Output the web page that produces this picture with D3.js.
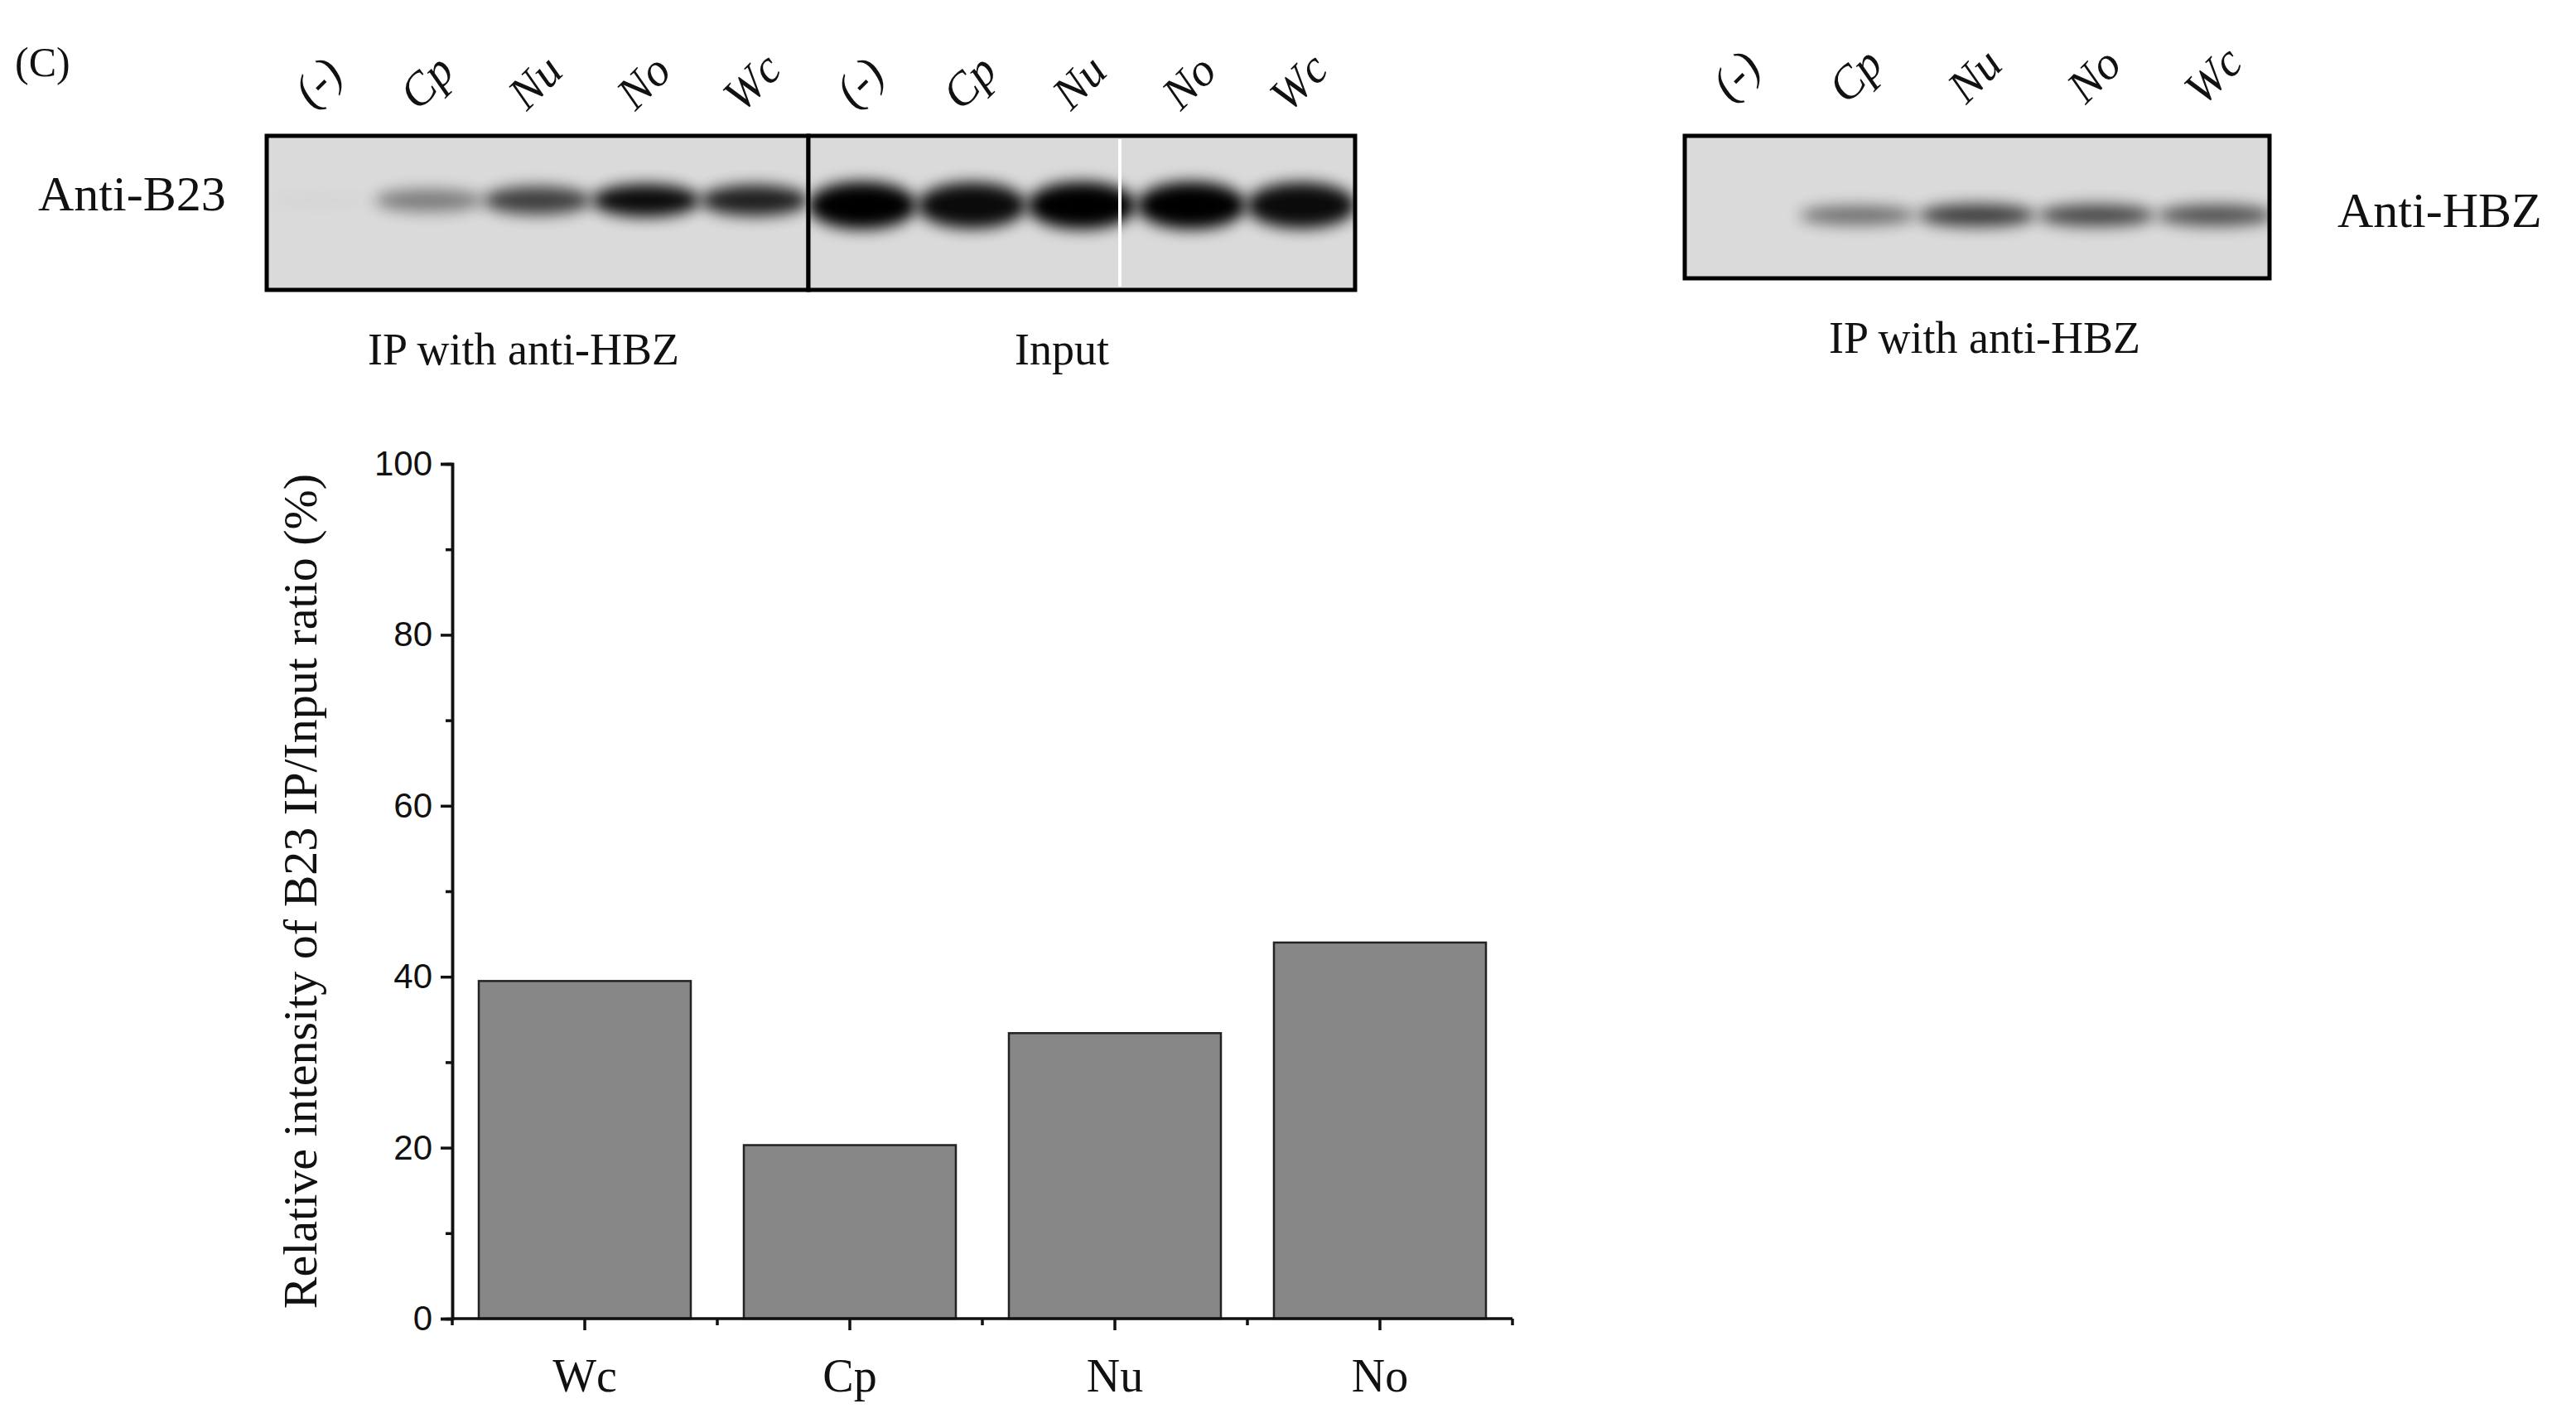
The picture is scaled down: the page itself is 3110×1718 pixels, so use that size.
<!DOCTYPE html>
<html>
<head>
<meta charset="utf-8">
<script src="https://cdn.jsdelivr.net/npm/d3@7"></script>
<style>
  body { margin:0; background:#fff; }
  text { font-family: "Liberation Serif", "DejaVu Serif", serif; fill:#111; }
  .tick text { font-family: "Liberation Sans Narrow", "Liberation Sans", Arial, sans-serif; }
</style>
</head>
<body>
<svg id="fig" width="3110" height="1718"></svg>
<script>
// ---- bar chart data
var categories = ["Wc", "Cp", "Nu", "No"];
var ratios = [39.5, 20.3, 33.4, 44.0];
var yTicks = [0, 20, 40, 60, 80, 100];

// ---- blot lanes
var ipLanes = ["(-)", "Cp", "Nu", "No", "Wc"];
var ipB23 = [0.02, 0.45, 0.75, 1.0, 0.9];
var inputLanes = ["(-)", "Cp", "Nu", "No", "Wc"];
var inputB23 = [1.0, 0.95, 1.0, 1.0, 0.95];
var hbzLanes = ["(-)", "Cp", "Nu", "No", "Wc"];
var ipHBZ = [0.0, 0.55, 0.8, 0.75, 0.7];

var svg = d3.select('#fig');

// blur filter for bands
var defs = svg.append('defs');
defs.append('filter').attr('id','blur').attr('x','-50%').attr('y','-100%').attr('width','200%').attr('height','300%')
  .append('feGaussianBlur').attr('stdDeviation', 9);

svg.append('text').attr('x',18).attr('y',92).style('font-size','50px').text('(C)');

// helper: draw a blot panel
function blot(x0, x1, y0, y1, lanes, values, bandY, bandH, darkness) {
  var g = svg.append('g');
  var xs = d3.scalePoint().domain(d3.range(lanes.length)).range([x0+65, x1-65]);
  g.append('rect').attr('x',x0).attr('y',y0).attr('width',x1-x0).attr('height',y1-y0)
    .attr('fill','#dadada');
  var clip = 'c'+x0;
  defs.append('clipPath').attr('id',clip).append('rect')
    .attr('x',x0).attr('y',y0).attr('width',x1-x0).attr('height',y1-y0);
  g.append('g').attr('clip-path','url(#'+clip+')').selectAll('ellipse')
    .data(values).enter().append('ellipse')
    .attr('cx',function(d,i){ return xs(i); })
    .attr('cy',bandY)
    .attr('rx',(x1-x0)/lanes.length*0.5)
    .attr('ry',function(d){ return bandH*(0.5+d*0.6); })
    .attr('fill','#000')
    .attr('opacity',function(d){ return d*darkness; })
    .attr('filter','url(#blur)');
  g.append('rect').attr('x',x0).attr('y',y0).attr('width',x1-x0).attr('height',y1-y0)
    .attr('fill','none').attr('stroke','#000').attr('stroke-width',5);
  return xs;
}

function laneLabels(xs, lanes, y) {
  svg.append('g').selectAll('text').data(lanes).enter().append('text')
    .attr('transform',function(d,i){ return 'translate('+(xs(i)+10)+','+y+') rotate(-45)'; })
    .attr('text-anchor','middle')
    .style('font-size','56px')
    .style('font-style','italic')
    .text(function(d){ return d; });
}

var xIp = blot(322, 976, 164, 350, ipLanes, ipB23, 242, 18, 0.95);
var xIn = blot(976, 1636, 164, 350, inputLanes, inputB23, 248, 26, 1.0);
svg.append('line').attr('x1',1352).attr('x2',1352).attr('y1',168).attr('y2',346)
  .attr('stroke','#fff').attr('stroke-width',4);
var xHbz = blot(2034, 2740, 164, 336, hbzLanes, ipHBZ, 260, 14, 0.9);

laneLabels(xIp, ipLanes, 112);
laneLabels(xIn, inputLanes, 112);
laneLabels(xHbz, hbzLanes, 104);

svg.append('text').attr('x',46).attr('y',254).style('font-size','60px').text('Anti-B23');
svg.append('text').attr('x',2822).attr('y',274).style('font-size','60px').text('Anti-HBZ');
svg.append('text').attr('x',632).attr('y',440).attr('text-anchor','middle').style('font-size','54px').text('IP with anti-HBZ');
svg.append('text').attr('x',1282).attr('y',440).attr('text-anchor','middle').style('font-size','54px').text('Input');
svg.append('text').attr('x',2396).attr('y',426).attr('text-anchor','middle').style('font-size','54px').text('IP with anti-HBZ');

// ---- bar chart
var plotLeft = 546, plotRight = 1826, plotTop = 560, plotBottom = 1592;
var x = d3.scaleBand().domain(categories).range([plotLeft, plotRight]).paddingInner(0.2).paddingOuter(0.1);
var y = d3.scaleLinear().domain([0, 100]).range([plotBottom, plotTop]);

svg.append('g').selectAll('rect').data(ratios).enter().append('rect')
  .attr('x',function(d,i){ return x(categories[i]); })
  .attr('y',function(d){ return y(d); })
  .attr('width',x.bandwidth())
  .attr('height',function(d){ return plotBottom - y(d); })
  .attr('fill','#878787').attr('stroke','#222').attr('stroke-width',2.5);

var yAxis = svg.append('g').attr('transform','translate('+plotLeft+',0)')
  .call(d3.axisLeft(y).tickValues(yTicks).tickSize(14).tickPadding(10));
svg.append('g').attr('transform','translate('+plotLeft+',0)')
  .call(d3.axisLeft(y).tickValues(d3.range(10, 100, 20)).tickSize(8).tickFormat(''));
yAxis.selectAll('text').style('font-size','42px');
svg.selectAll('.domain, .tick line').attr('stroke','#111').attr('stroke-width',3.5);

var xAxis = svg.append('g').attr('transform','translate(0,'+plotBottom+')')
  .call(d3.axisBottom(x).tickSize(14).tickPadding(34));
xAxis.select('.domain').attr('d','M'+plotLeft+',0H'+plotRight).attr('stroke','#111').attr('stroke-width',3.5);
xAxis.selectAll('.tick line').attr('stroke','#111').attr('stroke-width',3.5);
xAxis.selectAll('text').style('font-family','"Liberation Serif", serif').style('font-size','56px');
// minor ticks between categories
var step = x.step();
svg.append('g').selectAll('line').data(d3.range(categories.length + 1)).enter().append('line')
  .attr('x1',function(d){ return x(categories[0]) - x.paddingInner()*step/2 + d*step; })
  .attr('x2',function(d){ return x(categories[0]) - x.paddingInner()*step/2 + d*step; })
  .attr('y1',plotBottom).attr('y2',plotBottom+8).attr('stroke','#111').attr('stroke-width',3.5);

svg.append('text')
  .attr('transform','translate(382,'+((plotTop+plotBottom)/2)+') rotate(-90)')
  .attr('text-anchor','middle').style('font-size','58px')
  .text('Relative intensity of B23 IP/Input ratio (%)');
</script>
</body>
</html>
